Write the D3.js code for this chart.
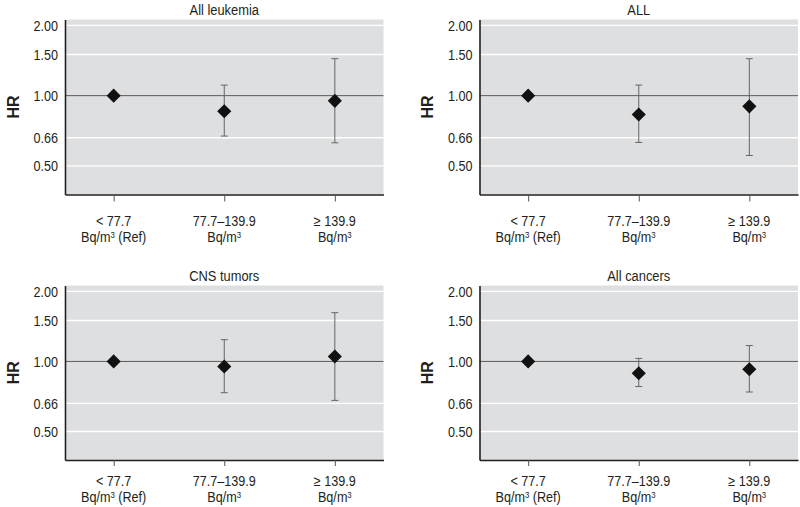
<!DOCTYPE html>
<html>
<head>
<meta charset="utf-8">
<script src="https://cdn.jsdelivr.net/npm/d3@7"></script>
<style>
  html, body { margin: 0; padding: 0; background: #ffffff; }
  svg { display: block; }
  text { font-family: "Liberation Sans", Arial, sans-serif; fill: #231f20; }
</style>
</head>
<body>
<svg id="chart" width="800" height="507"></svg>
<script>
// ---- Data ----
const catLine1 = ["< 77.7", "77.7\u2013139.9", "\u2265 139.9"];
const catLine2 = ["Bq/m\u00B3 (Ref)", "Bq/m\u00B3", "Bq/m\u00B3"];
const yTicks = [0.50, 0.66, 1.00, 1.50, 2.00];

const titles = ["All leukemia", "ALL", "CNS tumors", "All cancers"];

const leukemiaHR = [1.00, 0.857, 0.95];
const leukemiaLo = [null, 0.671, 0.628];
const leukemiaHi = [null, 1.11, 1.44];

const allHR = [1.00, 0.83, 0.90];
const allLo = [null, 0.63, 0.554];
const allHi = [null, 1.11, 1.44];

const cnsHR = [1.00, 0.951, 1.05];
const cnsLo = [null, 0.734, 0.68];
const cnsHi = [null, 1.24, 1.62];

const cancersHR = [1.00, 0.89, 0.926];
const cancersLo = [null, 0.78, 0.739];
const cancersHi = [null, 1.03, 1.17];

const panelsData = [
  { title: titles[0], hr: leukemiaHR, lo: leukemiaLo, hi: leukemiaHi },
  { title: titles[1], hr: allHR, lo: allLo, hi: allHi },
  { title: titles[2], hr: cnsHR, lo: cnsLo, hi: cnsHi },
  { title: titles[3], hr: cancersHR, lo: cancersLo, hi: cancersHi }
];

// ---- Layout ----
const cols = [{ x0: 65, x1: 383.5 }, { x0: 479.5, x1: 798 }];
const rows = [
  { y0: 19.5, y1: 194.5, lab1: 32, lab2: 48, tick: 7 },
  { y0: 285.5, y1: 460, lab1: 26.5, lab2: 42.5, tick: 6 }
];
const squeeze = 0.87;   // condensed look
const tickFont = 14.5;

const svg = d3.select("#chart");

panelsData.forEach((p, i) => {
  const c = cols[i % 2], r = rows[Math.floor(i / 2)];
  const g = svg.append("g");

  const x = d3.scalePoint().domain(d3.range(catLine1.length)).range([c.x0, c.x1]).padding(0.44);
  const y = d3.scaleLog().domain([0.377, 2.12]).range([r.y1, r.y0]);

  // background
  g.append("rect")
    .attr("x", c.x0).attr("y", r.y0)
    .attr("width", c.x1 - c.x0).attr("height", r.y1 - r.y0)
    .attr("fill", "#dedfe1");

  // gridlines
  g.selectAll("line.grid").data(yTicks.filter(v => v !== 1)).join("line")
    .attr("class", "grid")
    .attr("x1", c.x0).attr("x2", c.x1)
    .attr("y1", d => y(d)).attr("y2", d => y(d))
    .attr("stroke", "#ffffff").attr("stroke-width", 1.4);

  // reference line at 1.00
  g.append("line")
    .attr("x1", c.x0).attr("x2", c.x1)
    .attr("y1", y(1)).attr("y2", y(1))
    .attr("stroke", "#5a5a5a").attr("stroke-width", 1);

  // y axis
  const yAxis = d3.axisLeft(y).tickValues(yTicks).tickSize(0).tickSizeOuter(0)
    .tickPadding(7).tickFormat(d3.format(".2f"));
  const ya = g.append("g").attr("transform", `translate(${c.x0},0)`).call(yAxis);
  ya.select(".domain").attr("stroke", "#231f20").attr("stroke-width", 1.6);
  ya.selectAll(".tick text")
    .attr("font-size", tickFont).attr("fill", "#231f20")
    .attr("font-family", "'Liberation Sans', Arial, sans-serif")
    .attr("x", -7 / squeeze)
    .attr("transform", `scale(${squeeze},1)`);

  // x axis
  const xAxis = d3.axisBottom(x).tickSize(r.tick).tickSizeOuter(0).tickFormat("");
  const xa = g.append("g").attr("transform", `translate(0,${r.y1})`).call(xAxis);
  xa.select(".domain").attr("stroke", "#231f20").attr("stroke-width", 1.6);
  xa.selectAll(".tick line").attr("stroke", "#555");

  // x labels (two lines, second with superscript 3)
  const labs = g.selectAll("text.xl").data(d3.range(catLine1.length)).join("text")
    .attr("class", "xl")
    .attr("transform", d => `translate(${x(d)},0) scale(${squeeze},1)`)
    .attr("text-anchor", "middle")
    .attr("font-size", tickFont);
  labs.append("tspan").attr("x", 0).attr("y", r.y1 + r.lab1).text(d => catLine1[d]);
  const l2 = labs.append("tspan").attr("x", 0).attr("y", r.y1 + r.lab2);
  l2.append("tspan").text(d => catLine2[d].split("\u00B3")[0]);
  l2.append("tspan").attr("font-size", tickFont * 0.62).attr("dy", -4.5).text("3");
  l2.append("tspan").attr("dy", 4.5).text(d => catLine2[d].split("\u00B3")[1] || "");

  // title
  g.append("text")
    .attr("transform", `translate(${(c.x0 + c.x1) / 2},${r.y0 - 5}) scale(0.92,1)`)
    .attr("text-anchor", "middle").attr("font-size", 14)
    .text(p.title);

  // HR label
  g.append("text")
    .attr("transform", `translate(${c.x0 - 52},${(r.y0 + r.y1) / 2}) rotate(-90)`)
    .attr("text-anchor", "middle").attr("dominant-baseline", "central")
    .attr("font-size", 16).attr("font-weight", "bold")
    .text("HR");

  // error bars
  const idx = d3.range(p.hr.length).filter(k => p.lo[k] != null);
  g.selectAll("line.eb").data(idx).join("line")
    .attr("class", "eb")
    .attr("x1", k => x(k)).attr("x2", k => x(k))
    .attr("y1", k => y(p.lo[k])).attr("y2", k => y(p.hi[k]))
    .attr("stroke", "#666").attr("stroke-width", 1);
  ["lo", "hi"].forEach(key => {
    g.selectAll("line.cap" + key).data(idx).join("line")
      .attr("class", "cap" + key)
      .attr("x1", k => x(k) - 3.5).attr("x2", k => x(k) + 3.5)
      .attr("y1", k => y(p[key][k])).attr("y2", k => y(p[key][k]))
      .attr("stroke", "#666").attr("stroke-width", 1);
  });

  // diamonds
  g.selectAll("path.pt").data(d3.range(p.hr.length)).join("path")
    .attr("class", "pt")
    .attr("transform", k => `translate(${x(k)},${y(p.hr[k])}) rotate(45)`)
    .attr("d", d3.symbol().type(d3.symbolSquare).size(100)())
    .attr("fill", "#111");
});
</script>
</body>
</html>
